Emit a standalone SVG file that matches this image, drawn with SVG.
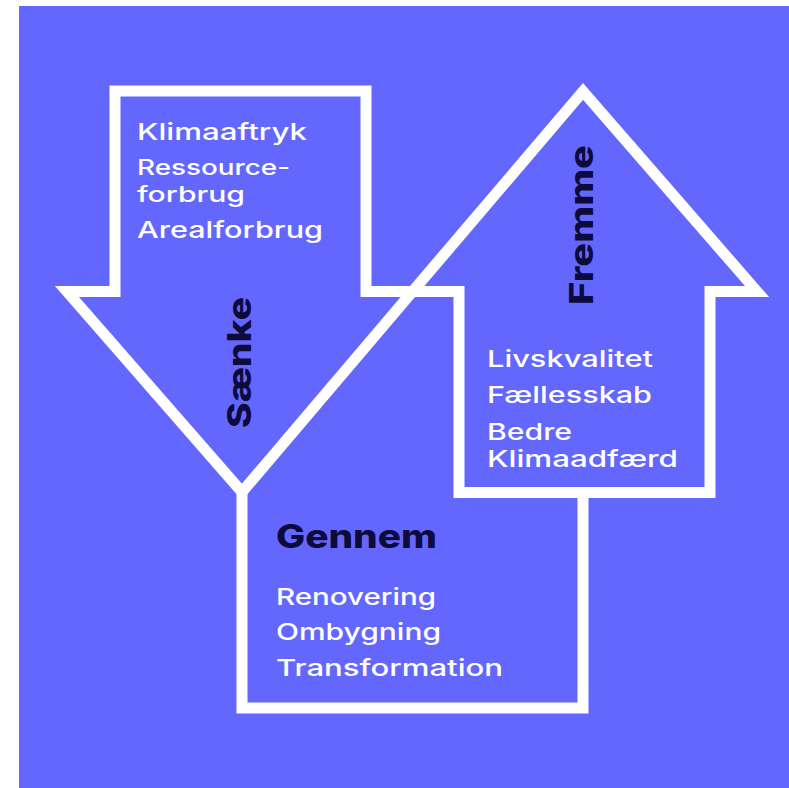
<svg xmlns="http://www.w3.org/2000/svg" width="789" height="788" viewBox="0 0 789 788">
<style>
.shape{fill:none;stroke:#ffffff;stroke-width:11;stroke-linejoin:miter;stroke-miterlimit:10}
.item{font-family:Inter,"Open Sans","Liberation Sans",sans-serif;font-size:23px;font-weight:500;fill:#ffffff}
.tight{font-size:22px}
.title{font-family:Inter,"Open Sans","Liberation Sans",sans-serif;font-size:32px;font-weight:800;fill:#0c0b3c}
</style>
<rect x="0" y="0" width="789" height="788" fill="#ffffff"/>
<rect x="19" y="6" width="770" height="782" fill="#6467fe"/>
<g id="saenke">
<path class="shape" d="M115,91 H366 V291.5 H412.5 L242,492 L67,291.5 H115 Z"/>
<text class="item" x="137" y="140" textLength="170" lengthAdjust="spacingAndGlyphs">Klimaaftryk</text>
<text class="item tight"><tspan x="137" y="175" textLength="153" lengthAdjust="spacingAndGlyphs">Ressource-</tspan><tspan x="137" y="202" textLength="108" lengthAdjust="spacingAndGlyphs">forbrug</tspan></text>
<text class="item" x="137" y="238" textLength="186" lengthAdjust="spacingAndGlyphs">Arealforbrug</text>
<text class="title" transform="translate(251,428) rotate(-90)" textLength="131" lengthAdjust="spacingAndGlyphs">Sænke</text>
</g>
<g id="fremme">
<path class="shape" d="M459,492.5 V291.5 H412.5 L583,91.5 L757,291.5 H710 V492.5 Z"/>
<text class="title" transform="translate(593,305) rotate(-90)" textLength="160" lengthAdjust="spacingAndGlyphs">Fremme</text>
<text class="item" x="487" y="367" textLength="166" lengthAdjust="spacingAndGlyphs">Livskvalitet</text>
<text class="item" x="487" y="403" textLength="165" lengthAdjust="spacingAndGlyphs">Fællesskab</text>
<text class="item"><tspan x="487" y="440" textLength="85" lengthAdjust="spacingAndGlyphs">Bedre</tspan><tspan x="487" y="467" textLength="191" lengthAdjust="spacingAndGlyphs">Klimaadfærd</tspan></text>
</g>
<g id="gennem">
<path class="shape" d="M242,492 V708 H583 V492.5 H459"/>
<text class="title" x="276" y="548" textLength="161" lengthAdjust="spacingAndGlyphs">Gennem</text>
<text class="item" x="276" y="605" textLength="160" lengthAdjust="spacingAndGlyphs">Renovering</text>
<text class="item" x="276" y="640" textLength="165" lengthAdjust="spacingAndGlyphs">Ombygning</text>
<text class="item" x="276" y="676" textLength="227" lengthAdjust="spacingAndGlyphs">Transformation</text>
</g>
<g id="connectors"></g>
</svg>
